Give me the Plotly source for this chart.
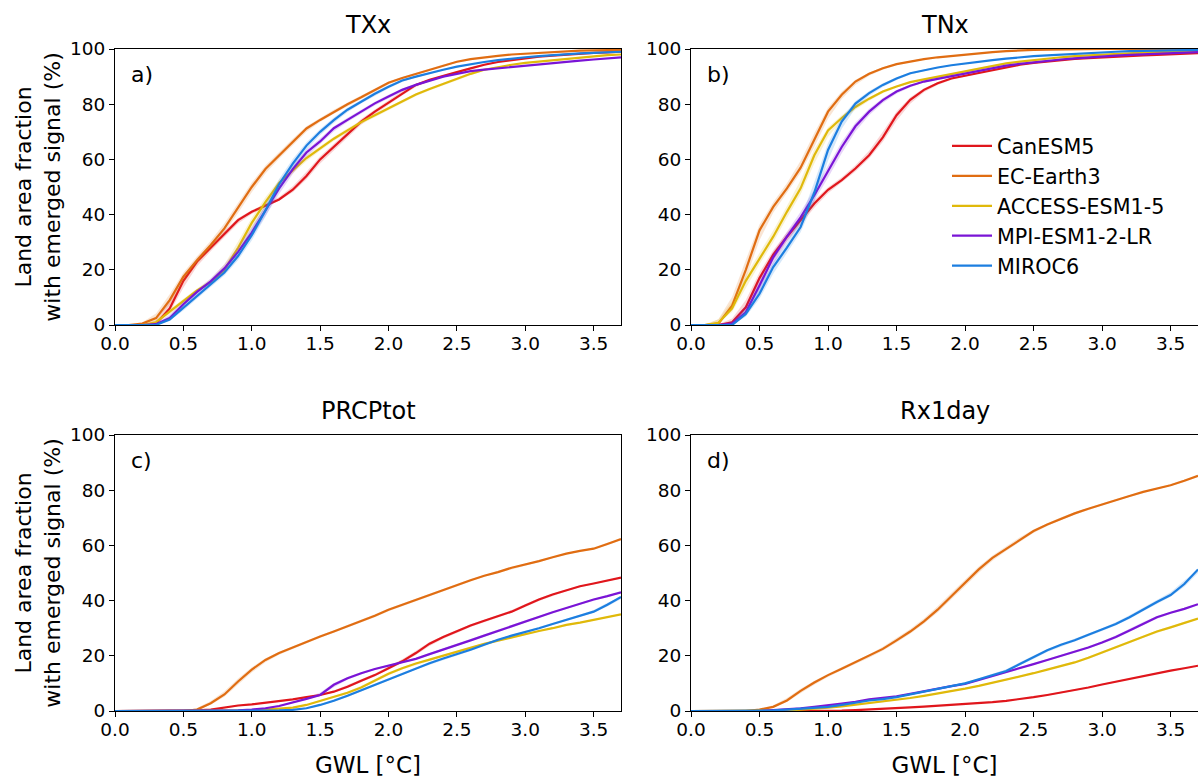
import numpy as np
import plotly.graph_objects as go

# Global warming level grid (°C)
gwl = [round(0.1 * i, 1) for i in range(38)]

models = ["CanESM5", "EC-Earth3", "ACCESS-ESM1-5", "MPI-ESM1-2-LR", "MIROC6"]
colors = ["#e0161c", "#e06d12", "#e0b90a", "#7a14d6", "#1c7ee0"]

# --- TXx: land fraction with emerged signal (%) ---
txx_canesm5 = [0, 0, 0, 0.5, 6, 16, 23, 28, 33, 38, 41, 43.4, 45.5, 49, 54, 60, 64.6, 69, 73.7, 77.3,
               80.6, 84, 87, 88.8, 90.3, 91.6, 93, 94.3, 95.3, 96, 96.7, 97.2, 97.6, 98, 98.3, 98.6, 98.8, 99]
txx_ecearth3 = [0, 0, 0.5, 2.5, 9, 17.5, 23.5, 29, 35, 42.5, 50, 56.5, 61.5, 66.3, 71.2, 74.3, 77.3, 80, 82.5, 85.2,
                87.8, 89.5, 91, 92.6, 94, 95.4, 96.3, 97, 97.5, 98, 98.3, 98.6, 99, 99.2, 99.4, 99.5, 99.6, 99.7]
txx_access = [0, 0, 0, 1, 4.8, 8.8, 12.5, 15.5, 20, 28, 37, 44.5, 51.5, 56, 60.5, 64, 67.5, 70.5, 73.5, 76,
              78.5, 81, 83.5, 85.5, 87.3, 89, 91, 92.5, 93.5, 94.3, 95, 95.5, 96, 96.5, 97, 97.4, 97.8, 98]
txx_mpi = [0, 0, 0, 0.3, 2.5, 7.5, 12, 15.8, 20.5, 26.5, 33.5, 41.5, 49.5, 56.5, 62.5, 66.5, 71.3, 74.3, 77.3, 80.3,
           82.8, 85.2, 87, 88.6, 90, 91, 92, 92.5, 93, 93.5, 94, 94.5, 95, 95.4, 95.8, 96.2, 96.5, 97]
txx_miroc6 = [0, 0, 0, 0, 2, 6.3, 10.5, 14.8, 19, 25, 32.5, 41.5, 51, 58.5, 65, 70, 74.2, 78, 81, 83.8,
              86.3, 88.6, 90, 91.3, 92.5, 93.6, 94.5, 95.3, 96, 96.6, 97, 97.4, 97.8, 98.1, 98.4, 98.6, 98.8, 99]

# --- TNx ---
tnx_canesm5 = [0, 0, 0, 1, 6.4, 17, 25.5, 32, 38, 44, 49, 52.5, 56.7, 61.5, 68, 76, 81.6, 85.2, 87.6, 89.3,
               90.3, 91.3, 92.5, 93.5, 94.3, 95, 95.5, 96, 96.4, 96.7, 97, 97.3, 97.5, 97.7, 97.9, 98.1, 98.3, 98.5]
tnx_ecearth3 = [0, 0, 0.5, 7, 20, 34.3, 42.8, 49.5, 57, 67, 77.3, 83.4, 88.2, 91, 93, 94.5, 95.5, 96.3, 97, 97.5,
                98, 98.5, 98.9, 99.2, 99.5, 99.7, 99.8, 99.9, 100, 100, 100, 100, 100, 100, 100, 100, 100, 100]
tnx_access = [0, 0, 0.8, 6, 16, 24, 32, 41, 49.5, 61.5, 70.5, 75, 79, 82, 84.6, 86.4, 88, 89, 90, 91,
              92, 93, 94, 94.8, 95.4, 96, 96.5, 97, 97.4, 97.7, 98, 98.3, 98.5, 98.7, 98.9, 99, 99.2, 99.3]
tnx_mpi = [0, 0, 0, 0.5, 4.6, 14.3, 24.5, 32, 39, 47, 55.5, 64.5, 72, 77.3, 81.5, 84.6, 86.7, 88.2, 89.2, 90.2,
           91, 92, 93, 94, 94.6, 95.2, 95.7, 96.2, 96.6, 97, 97.3, 97.6, 97.9, 98.1, 98.3, 98.5, 98.7, 98.9]
tnx_miroc6 = [0, 0, 0, 0, 4, 11.3, 21, 28, 35.5, 48, 63.4, 73.7, 80.2, 84, 87, 89.3, 91.2, 92.3, 93.3, 94.1,
              94.8, 95.4, 96, 96.5, 97, 97.4, 97.7, 98, 98.3, 98.6, 98.8, 99, 99.2, 99.3, 99.4, 99.5, 99.6, 99.7]

# --- PRCPtot ---
prcp_canesm5 = [0, 0, 0, 0, 0, 0, 0.2, 0.5, 1.2, 2, 2.4, 3, 3.4, 4.2, 5, 5.8, 7, 8.8, 11, 13,
                15.5, 18, 21, 24.4, 26.8, 28.8, 31, 32.7, 34.3, 36, 38.2, 40.4, 42.2, 43.8, 45.2, 46.2, 47.3, 48.3]
prcp_ecearth3 = [0, 0, 0, 0, 0, 0, 0.5, 2.8, 6, 10.7, 15, 18.5, 21, 23, 25.2, 27, 28.8, 30.7, 32.5, 34.5,
                 36.7, 38.5, 40.4, 42, 43.8, 45.6, 47.4, 49, 50.3, 51.9, 53, 54.3, 55.7, 57, 58, 58.8, 60.5, 62.3]
prcp_access = [0, 0, 0, 0, 0, 0, 0, 0, 0, 0, 0.2, 0.5, 0.9, 1.2, 2.2, 3.6, 5, 6.6, 8.5, 11,
               13.5, 15.5, 17.2, 18.6, 20, 21.5, 23, 24.3, 25.5, 26.7, 27.8, 29, 30, 31.2, 32, 33, 34, 35]
prcp_mpi = [0, 0, 0, 0, 0, 0, 0, 0, 0, 0.2, 0.5, 1, 1.8, 3, 4.4, 5.8, 9.5, 11.9, 13.7, 15.2,
            16.4, 17.7, 18.9, 20.6, 22.2, 24, 25.6, 27.3, 29, 30.7, 32.5, 34, 35.8, 37.3, 38.9, 40.4, 41.6, 43]
prcp_miroc6 = [0, 0, 0, 0, 0, 0, 0, 0, 0, 0, 0, 0.1, 0.2, 0.4, 1, 2.2, 3.7, 5.5, 7.5, 9.5,
               11.5, 13.5, 15.5, 17.3, 19, 20.5, 22.2, 24, 25.8, 27.3, 28.6, 30, 31.5, 33, 34.5, 36, 38.5, 41.3]

# --- Rx1day ---
rx1_canesm5 = [0, 0, 0, 0, 0, 0, 0, 0, 0, 0, 0, 0.1, 0.3, 0.5, 0.8, 1, 1.3, 1.6, 1.9, 2.2,
               2.5, 2.8, 3.2, 3.7, 4.3, 5, 5.8, 6.7, 7.5, 8.5, 9.6, 10.6, 11.7, 12.8, 13.8, 14.6, 15.5, 16.4]
rx1_ecearth3 = [0, 0, 0, 0, 0, 0.5, 1.5, 3.8, 7.3, 10.3, 13, 15.3, 17.7, 19.8, 22.5, 25.6, 28.8, 32.5, 36.7, 41.6,
                46.4, 51.3, 55.5, 58.8, 62.2, 65.2, 67.6, 69.7, 71.6, 73.3, 74.9, 76.5, 77.9, 79.4, 80.6, 81.8, 83.4, 85.2]
rx1_access = [0, 0, 0, 0, 0, 0, 0, 0.2, 0.5, 0.8, 1.2, 1.7, 2.3, 2.8, 3.3, 4, 4.7, 5.5, 6.3, 7.2,
              8.1, 9.1, 10.2, 11.3, 12.5, 13.7, 15, 16.3, 17.6, 19.3, 21.2, 23.1, 25, 27, 28.8, 30.3, 32, 33.5]
rx1_mpi = [0, 0, 0, 0, 0, 0, 0.3, 0.6, 1, 1.5, 2, 2.7, 3.3, 4.2, 4.8, 5.3, 6.2, 7.2, 8.2, 9,
           9.8, 11.2, 12.6, 14, 15.5, 17, 18.5, 20, 21.5, 23, 24.8, 26.8, 29.2, 31.7, 34, 35.6, 37, 38.7]
rx1_miroc6 = [0, 0, 0, 0, 0, 0, 0.2, 0.5, 0.8, 1.2, 1.5, 2.2, 3, 3.8, 4.3, 5, 6, 7, 8, 9,
              10, 11.5, 13, 14.5, 17, 19.5, 22, 24, 25.6, 27.6, 29.5, 31.5, 34, 36.8, 39.5, 42, 46, 51.3]

panels = [
    ("TXx", "a)", [txx_canesm5, txx_ecearth3, txx_access, txx_mpi, txx_miroc6]),
    ("TNx", "b)", [tnx_canesm5, tnx_ecearth3, tnx_access, tnx_mpi, tnx_miroc6]),
    ("PRCPtot", "c)", [prcp_canesm5, prcp_ecearth3, prcp_access, prcp_mpi, prcp_miroc6]),
    ("Rx1day", "d)", [rx1_canesm5, rx1_ecearth3, rx1_access, rx1_mpi, rx1_miroc6]),
]

W, H = 1198, 780
FONT = "DejaVu Sans"

# Axis domains in pixel terms
x_dom = [(115 / W, 621 / W), (691 / W, 1.0)]
y_dom = [(1 - 325 / H, 1 - 49 / H), (1 - 711 / H, 1 - 435 / H)]


def hex_to_rgba(h, a):
    h = h.lstrip("#")
    return "rgba(%d,%d,%d,%.2f)" % (int(h[0:2], 16), int(h[2:4], 16), int(h[4:6], 16), a)


fig = go.Figure()
xs = np.array(gwl)
layout = {}
annotations = []

for p, (title, tag, series) in enumerate(panels):
    row, col = divmod(p, 2)
    ax = "" if p == 0 else str(p + 1)
    xref, yref = "x" + ax, "y" + ax
    for m, (name, color, vals) in enumerate(zip(models, colors, series)):
        v = np.array(vals, dtype=float)
        # spread band: curve sampled slightly earlier / later in GWL
        lo = np.interp(xs - 0.025, xs, v)
        hi = np.interp(xs + 0.025, xs, v)
        fig.add_trace(go.Scatter(
            x=np.concatenate([xs, xs[::-1]]), y=np.concatenate([hi, lo[::-1]]),
            fill="toself", fillcolor=hex_to_rgba(color, 0.18), line=dict(width=0),
            mode="lines", hoverinfo="skip", showlegend=False, xaxis=xref, yaxis=yref))
        fig.add_trace(go.Scatter(
            x=xs, y=v, mode="lines", name=name,
            line=dict(color=color, width=2.2),
            showlegend=(p == 1), legend="legend", xaxis=xref, yaxis=yref))

    axis_common = dict(
        showline=True, linecolor="black", linewidth=1.2, mirror=True,
        ticks="outside", ticklen=5, tickwidth=1.2, tickcolor="black",
        showgrid=False, zeroline=False, automargin=False,
        tickfont=dict(family=FONT, size=18.5, color="black"),
    )
    layout["xaxis" + ax] = dict(
        axis_common, domain=list(x_dom[col]), range=[0, 3.7],
        tickvals=[0, 0.5, 1, 1.5, 2, 2.5, 3, 3.5],
        ticktext=["0.0", "0.5", "1.0", "1.5", "2.0", "2.5", "3.0", "3.5"],
        anchor=yref, ticklabelstandoff=-3,
        title=dict(text="GWL [°C]", font=dict(family=FONT, size=23, color="black"), standoff=17) if row == 1 else None,
    )
    layout["yaxis" + ax] = dict(
        axis_common, domain=list(y_dom[row]), range=[0, 100],
        tickvals=[0, 20, 40, 60, 80, 100], anchor=xref,
        title=dict(text="Land area fraction<br>with emerged signal (%)",
                   font=dict(family=FONT, size=22, color="black"), standoff=3) if col == 0 else None,
    )
    annotations.append(dict(
        text=title, xref=xref + " domain", yref=yref + " domain", x=0.5, y=1.0,
        yshift=24, showarrow=False, xanchor="center", yanchor="middle",
        font=dict(family=FONT, size=24, color="black")))
    annotations.append(dict(
        text=tag, xref=xref + " domain", yref=yref + " domain", x=0.028, y=0.906,
        showarrow=False, xanchor="left", yanchor="middle",
        font=dict(family=FONT, size=22, color="black")))

fig.update_layout(
    width=W, height=H,
    margin=dict(l=0, r=0, t=0, b=0),
    paper_bgcolor="white", plot_bgcolor="white",
    annotations=annotations,
    legend=dict(x=947 / W, y=1 - 126 / H, xref="paper", yref="paper",
                xanchor="left", yanchor="top",
                font=dict(family=FONT, size=20.7, color="black"),
                bgcolor="rgba(0,0,0,0)", itemwidth=40, tracegroupgap=0),
    showlegend=True,
    **layout,
)

fig.write_html("out.html")
